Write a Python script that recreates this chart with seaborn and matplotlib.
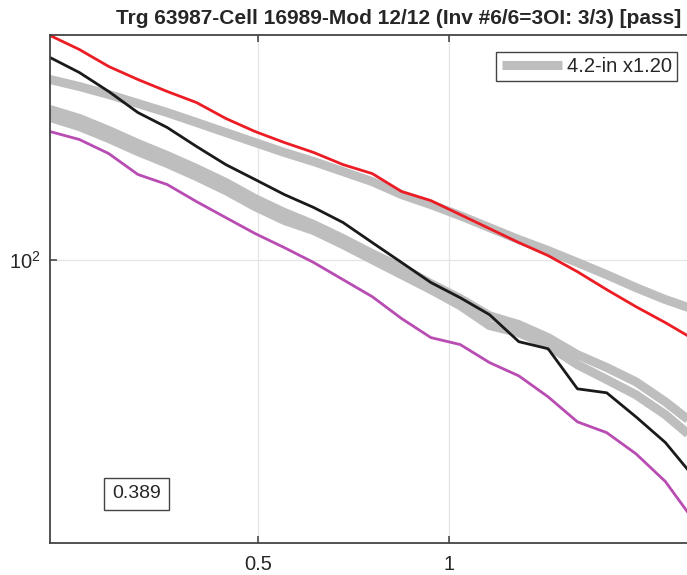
import matplotlib
matplotlib.use("Agg")
import pandas as pd
import matplotlib.pyplot as plt
import seaborn as sns

# Data (log-log axes)
periods = [0.2346, 0.2610, 0.2903, 0.3228, 0.3590, 0.3993, 0.4441, 0.4939,
           0.5493, 0.6109, 0.6795, 0.7557, 0.8406, 0.9348, 1.0397, 1.1564,
           1.2861, 1.4304, 1.5910, 1.7695, 1.9680, 2.1889, 2.4345]

red_vals = [281.2, 263.6, 243.8, 229.6, 217.3, 206.5, 191.9, 180.7, 171.8, 164.1,
            155.2, 148.9, 137.1, 131.5, 123.3, 115.6, 108.4, 102.1, 94.8, 87.3,
            80.7, 75.0, 69.3]
black_vals = [254.1, 237.1, 217.3, 197.2, 184.1, 168.7, 155.2, 144.9, 135.2, 127.4,
              118.9, 108.4, 98.9, 90.2, 84.1, 77.8, 68.7, 66.5, 55.3, 54.3,
              48.6, 43.2, 36.7]
purple_vals = [180.7, 174.2, 163.3, 148.3, 141.6, 130.9, 121.6, 113.0, 105.9, 98.9,
               91.4, 84.5, 76.4, 70.0, 67.8, 62.4, 58.7, 53.3, 47.5, 45.2,
               41.0, 36.1, 30.0]
gray_top = [229.6, 222.3, 214.3, 205.6, 197.2, 188.4, 179.9, 171.8, 164.1, 157.4,
            150.3, 143.5, 135.2, 129.1, 122.7, 116.1, 109.9, 104.5, 98.9, 93.5,
            88.1, 83.4, 79.6]
gray_mid = [200.0, 191.9, 181.6, 171.0, 161.8, 152.4, 142.9, 132.7, 124.5, 117.8,
            110.4, 103.0, 96.6, 89.7, 83.8, 77.4, 74.3, 70.0, 64.7, 61.0,
            57.1, 52.1, 46.9]
gray_low = [192.8, 184.9, 175.0, 164.8, 156.0, 146.9, 137.7, 127.9, 120.0, 114.6,
            107.4, 100.2, 93.5, 87.3, 81.1, 74.0, 71.6, 67.5, 61.8, 57.7,
            53.8, 49.1, 43.8]

x_ticks = [0.5, 1]
x_tick_labels = ["0.5", "1"]
y_ticks = [100]

title = "Trg 63987-Cell 16989-Mod 12/12 (Inv #6/6=3OI: 3/3) [pass]"
legend_label = "4.2-in x1.20"
note = "0.389"

series = [
    ("gray_top", gray_top, "#bebebf", 6.5, legend_label),
    ("gray_mid", gray_mid, "#bebebf", 6.5, None),
    ("gray_low", gray_low, "#bebebf", 6.5, None),
    ("red", red_vals, "#ec1c24", 2.0, None),
    ("black", black_vals, "#1a1a1a", 2.0, None),
    ("purple", purple_vals, "#b84cb2", 2.0, None),
]

rows = []
for name, vals, _, _, _ in series:
    for p, v in zip(periods, vals):
        rows.append({"series": name, "period": p, "value": v})
df = pd.DataFrame(rows)

sns.set_theme(style="white")
plt.rcParams["font.family"] = ["Liberation Sans", "DejaVu Sans"]
plt.rcParams["mathtext.default"] = "regular"

fig = plt.figure(figsize=(6.87, 5.75), dpi=100)
ax = fig.add_axes([50 / 687, 32 / 575, 637 / 687, 508 / 575])

for name, vals, color, lw, label in series:
    sub = df[df["series"] == name]
    sns.lineplot(data=sub, x="period", y="value", color=color, linewidth=lw,
                 estimator=None, sort=False, label=label, legend=False, ax=ax,
                 solid_capstyle="butt", solid_joinstyle="round")

ax.set_xscale("log")
ax.set_yscale("log")
ax.set_xlim(0.2346, 2.368)
ax.set_ylim(27.2, 281.8)

ax.set_xticks(x_ticks)
ax.set_xticklabels(x_tick_labels)
ax.set_yticks(y_ticks)
ax.minorticks_off()
ax.set_xlabel("")
ax.set_ylabel("")

ax.grid(True, color="#e4e4e4", linewidth=0.9)
ax.tick_params(direction="in", length=5, width=1.1, colors="#3a3a3a",
               labelsize=14.5, labelcolor="#262626", top=True, bottom=True, left=True)
ax.tick_params(axis="x", pad=9)
ax.tick_params(axis="y", pad=7)

for side in ["left", "bottom", "top"]:
    ax.spines[side].set_color("#444444")
    ax.spines[side].set_linewidth(1.3)
ax.spines["right"].set_visible(False)

ax.set_title(title, fontsize=15, fontweight="bold", color="#262626", x=0.548, pad=8)

handles, labels = ax.get_legend_handles_labels()
leg = ax.legend(handles, labels, loc="upper right",
                bbox_to_anchor=(677 / 687, 1 - 52 / 575), bbox_transform=fig.transFigure,
                fontsize=14.5, frameon=True, fancybox=False, framealpha=1,
                edgecolor="#444444", handlelength=3.0, handletextpad=0.25,
                borderpad=0.25, borderaxespad=0)
leg.get_frame().set_linewidth(1.0)

ax.text(0.1358, 0.0965, note, transform=ax.transAxes, ha="center", va="center",
        fontsize=14, color="#262626",
        bbox=dict(boxstyle="square,pad=0.4", fc="white", ec="#444444", lw=1.0))

fig.savefig("out.png", dpi=100)
print("Saved out.png")
